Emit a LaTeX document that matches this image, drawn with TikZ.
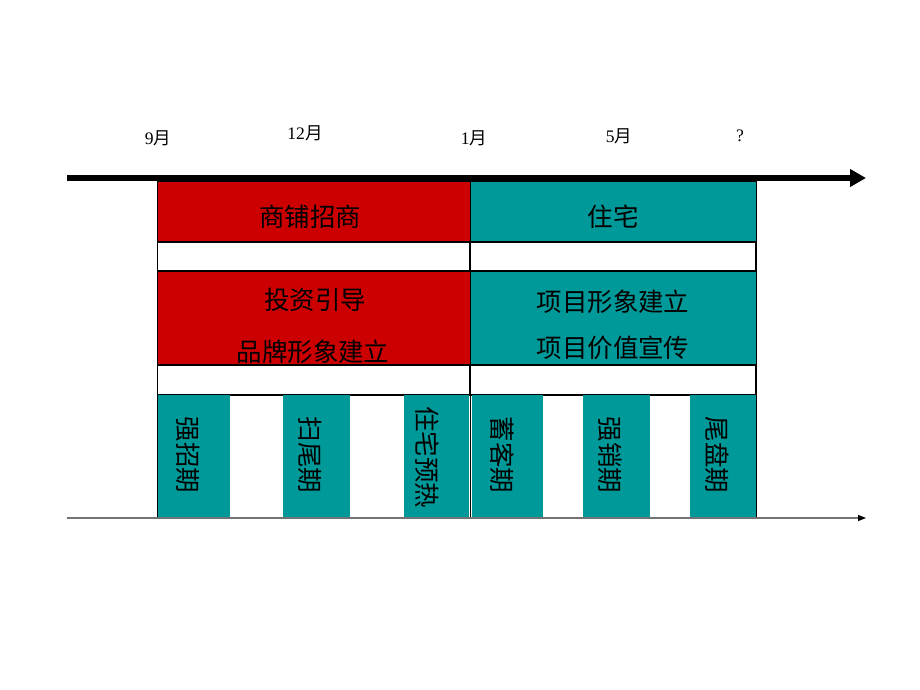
\documentclass[tikz,border=0pt]{standalone}
\usepackage{fontspec}
\setmainfont{Liberation Serif}
\newfontfamily\cjk{Noto Sans CJK SC}
\usetikzlibrary{arrows.meta}
\definecolor{shopred}{RGB}{204,0,0}
\definecolor{hometeal}{RGB}{0,153,153}

\begin{document}
\begin{tikzpicture}[x=0.02cm, y=-0.02cm,
    redbox/.style ={rectangle, draw=black, line width=0.4pt, fill=shopred, inner sep=0pt},
    tealbox/.style ={rectangle, draw=black, line width=0.4pt, fill=hometeal, inner sep=0pt},
    blank/.style ={rectangle, draw=black, line width=0.6pt, fill=white, inner sep=0pt},
    bar/.style ={rectangle, fill=hometeal, inner sep=0pt, minimum height=2.46cm},
    boxtext/.style ={font=\cjk\fontsize{14.5}{17}\selectfont, inner sep=0pt},
    bartext/.style ={font=\cjk\fontsize{14.5}{17}\selectfont, inner sep=0pt, rotate=-90},
    month/.style ={font=\fontsize{10}{12}\selectfont, inner sep=0pt}]
   \useasboundingbox (0,0) rectangle (920,690);

   % time line
   \coordinate (T0) at (67,178);
   \coordinate (T1) at (866,178);
   \node[month] (M1) at (158,138) {9{\cjk 月}};
   \node[month] (M2) at (305,133) {12{\cjk 月}};
   \node[month] (M3) at (474,138) {1{\cjk 月}};
   \node[month] (M4) at (619,136) {5{\cjk 月}};
   \node[month] (M5) at (740,136) {?};

   % rows
   \node[redbox, minimum width=6.26cm, minimum height=1.22cm] (A) at (313.5,211.5) {};
   \node[tealbox, minimum width=5.72cm, minimum height=1.22cm] (B) at (613,211.5) {};
   \node[blank, minimum width=6.26cm, minimum height=0.58cm] (C) at (313.5,256.5) {};
   \node[blank, minimum width=5.72cm, minimum height=0.58cm] (D) at (613,256.5) {};
   \node[redbox, minimum width=6.26cm, minimum height=1.88cm] (E) at (313.5,318) {};
   \node[tealbox, minimum width=5.72cm, minimum height=1.88cm] (F) at (613,318) {};
   \node[blank, minimum width=6.26cm, minimum height=0.6cm] (G) at (313.5,380) {};
   \node[blank, minimum width=5.72cm, minimum height=0.6cm] (H) at (613,380) {};

   \node[boxtext] (a) at (310,217) {商铺招商};
   \node[boxtext] (b) at (613,217) {住宅};
   \node[boxtext] (e1) at (315,300) {投资引导};
   \node[boxtext] (e2) at (313,352) {品牌形象建立};
   \node[boxtext] (f1) at (613,302) {项目形象建立};
   \node[boxtext] (f2) at (613,348) {项目价值宣传};

   % phases
   \node[bar, minimum width=1.46cm] (P1) at (193.5,456.5) {};
   \node[bar, minimum width=1.34cm] (P2) at (316.5,456.5) {};
   \node[bar, minimum width=1.30cm] (P3) at (436.5,456.5) {};
   \node[bar, minimum width=1.42cm] (P4) at (507.5,456.5) {};
   \node[bar, minimum width=1.34cm] (P5) at (616.5,456.5) {};
   \node[bar, minimum width=1.32cm] (P6) at (723,456.5) {};

   \node[bartext] (p1) at (188,455) {强招期};
   \node[bartext] (p2) at (310,455) {扫尾期};
   \node[bartext] (p3) at (427,457) {住宅预热};
   \node[bartext] (p4) at (502,455) {蓄客期};
   \node[bartext] (p5) at (610,455) {强销期};
   \node[bartext] (p6) at (717,455) {尾盘期};

   % frame
   \draw[line width=0.5pt] (157,181) -- (157,518);
   \draw[line width=0.5pt] (470,181) -- (470,518);
   \draw[line width=0.5pt] (756,181) -- (756,518);

   \coordinate (S0) at (67,518);
   \coordinate (S1) at (866,518);
   \draw[line width=0.7pt, black!55, -{Triangle[length=0.16cm, width=0.12cm, black]}] (S0) to (S1);
   \draw[line width=3.4pt, -{Triangle[length=0.32cm, width=0.34cm]}] (T0) to (T1);
 \end{tikzpicture}
\end{document}
